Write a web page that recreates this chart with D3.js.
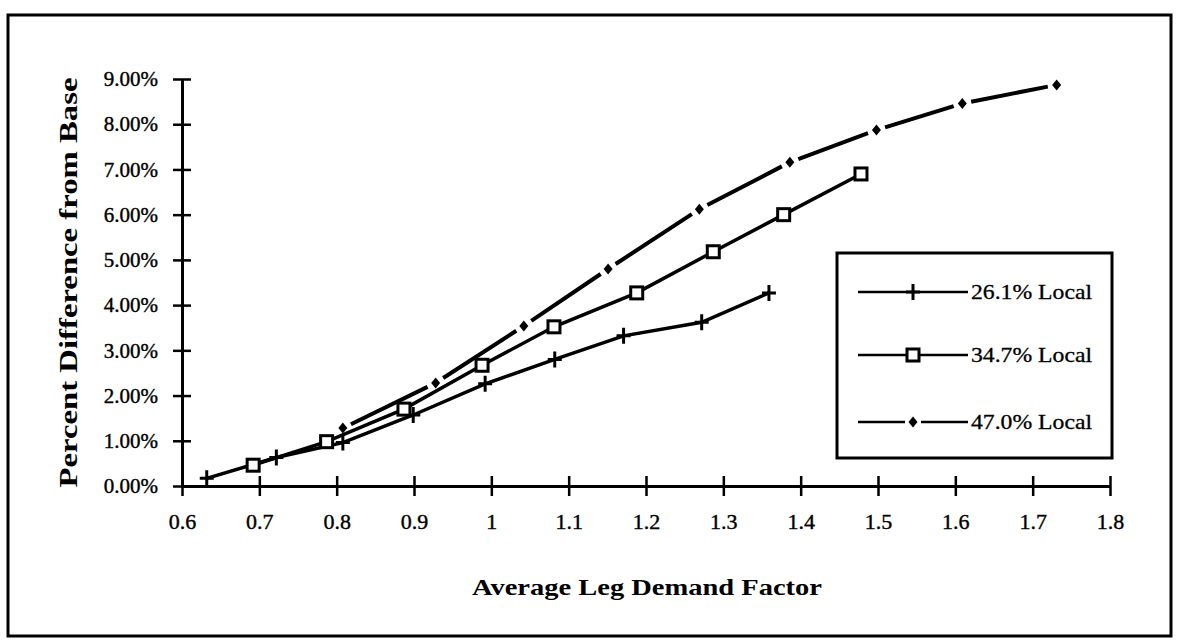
<!DOCTYPE html>
<html>
<head>
<meta charset="utf-8">
<script src="https://cdn.jsdelivr.net/npm/d3@7"></script>
<style>
    body { margin: 0; background: #ffffff; }
    svg { display: block; }
</style>
</head>
<body>
<svg id="drawing_region"></svg>
<script>
// values
const xTicks = [0.6, 0.7, 0.8, 0.9, 1, 1.1, 1.2, 1.3, 1.4, 1.5, 1.6, 1.7, 1.8];
const yTicks = [0, 1, 2, 3, 4, 5, 6, 7, 8, 9];

const seriesNames = ['26.1% Local', '34.7% Local', '47.0% Local'];

const local261X = [0.632, 0.722, 0.808, 0.899, 0.992, 1.082, 1.171, 1.272, 1.359];
const local261Y = [0.17, 0.63, 0.96, 1.57, 2.26, 2.80, 3.32, 3.62, 4.27];

const local347X = [0.692, 0.787, 0.887, 0.988, 1.081, 1.188, 1.287, 1.378, 1.478];
const local347Y = [0.46, 0.98, 1.70, 2.67, 3.52, 4.27, 5.18, 6.00, 6.90];

const local470X = [0.808, 0.928, 1.042, 1.151, 1.269, 1.386, 1.498, 1.609, 1.731];
const local470Y = [1.28, 2.28, 3.54, 4.80, 6.12, 7.16, 7.87, 8.46, 8.87];

const toPoints = (xs, ys) => xs.map((x, i) => ({ x: x, y: ys[i] }));

const data = [
    { name: seriesNames[0], marker: 'plus', points: toPoints(local261X, local261Y) },
    { name: seriesNames[1], marker: 'square', points: toPoints(local347X, local347Y) },
    { name: seriesNames[2], marker: 'diamond', points: toPoints(local470X, local470Y) },
];

const FONT = '"Palatino Linotype", "Book Antiqua", Palatino, "Liberation Serif", serif';

var config = {
    parent: '#drawing_region',
    width: 1179,
    height: 642,
    margin: { top: 79, right: 69, bottom: 156, left: 182 },
};

class LineChart {
    constructor(config, data) {
        this.config = config;
        this.data = data;
        this.init();
    }

    init() {
        let self = this;
        self.inner_width = self.config.width - self.config.margin.left - self.config.margin.right;
        self.inner_height = self.config.height - self.config.margin.top - self.config.margin.bottom;

        self.svg = d3.select(self.config.parent)
            .attr('width', self.config.width)
            .attr('height', self.config.height)
            .attr('font-family', FONT);

        // outer frame
        self.svg.append('rect')
            .attr('x', 8)
            .attr('y', 15)
            .attr('width', 1163)
            .attr('height', 621)
            .attr('fill', 'none')
            .attr('stroke', 'black')
            .attr('stroke-width', 3);

        self.chart = self.svg.append('g')
            .attr('transform', `translate(${self.config.margin.left}, ${self.config.margin.top})`);

        self.xscale = d3.scaleLinear()
            .domain([0.6, 1.8])
            .range([0, self.inner_width]);

        self.yscale = d3.scaleLinear()
            .domain([0, 9])
            .range([self.inner_height, 0]);

        self.xaxis = d3.axisBottom(self.xscale)
            .tickValues(xTicks)
            .tickFormat(d3.format('~g'))
            .tickSize(10)
            .tickPadding(17)
            .tickSizeOuter(0);

        self.yaxis = d3.axisLeft(self.yscale)
            .tickValues(yTicks)
            .tickFormat(d => d.toFixed(2) + '%')
            .tickSize(9)
            .tickPadding(15)
            .tickSizeOuter(0);

        self.line = d3.line()
            .x(d => self.xscale(d.x))
            .y(d => self.yscale(d.y));
    }

    update() {
        this.render();
    }

    render() {
        let self = this;

        // axes
        const xg = self.chart.append('g')
            .attr('transform', `translate(0, ${self.inner_height})`)
            .call(self.xaxis)
            .attr('font-family', FONT);
        xg.select('.domain').attr('stroke-width', 3);
        xg.selectAll('.tick line').attr('y1', -10).attr('stroke-width', 2.5);
        xg.selectAll('.tick text')
            .attr('font-size', '22px')
            .attr('fill', 'black')
            .attr('stroke', 'black')
            .attr('stroke-width', 0.4);

        const yg = self.chart.append('g')
            .call(self.yaxis)
            .attr('font-family', FONT);
        yg.select('.domain').attr('stroke-width', 3);
        yg.selectAll('.tick line').attr('x1', 9).attr('stroke-width', 2.5);
        yg.selectAll('.tick text')
            .attr('font-size', '21px')
            .attr('fill', 'black')
            .attr('stroke', 'black')
            .attr('stroke-width', 0.4);

        // axis titles
        self.chart.append('text')
            .text('Average Leg Demand Factor')
            .attr('x', self.inner_width / 2 + 1)
            .attr('y', self.inner_height + 109)
            .attr('font-size', '24px')
            .attr('font-weight', 'bold')
            .attr('text-anchor', 'middle')
            .attr('textLength', 350)
            .attr('lengthAdjust', 'spacingAndGlyphs');

        self.chart.append('text')
            .text('Percent Difference from Base')
            .attr('transform', `translate(${-105}, ${self.inner_height / 2}) rotate(-90)`)
            .attr('font-size', '26px')
            .attr('font-weight', 'bold')
            .attr('text-anchor', 'middle')
            .attr('textLength', 410)
            .attr('lengthAdjust', 'spacingAndGlyphs');

        // 26.1% and 34.7% series: solid lines
        self.data.slice(0, 2).forEach(s => {
            self.chart.append('path')
                .attr('d', self.line(s.points))
                .attr('stroke', 'black')
                .attr('stroke-width', 3.5)
                .attr('fill', 'none');
        });

        // 47.0% series: dashes between points with a gap round each marker
        const s3 = self.data[2];
        const gap = 9;
        d3.pairs(s3.points).forEach(([a, b]) => {
            const x1 = self.xscale(a.x), y1 = self.yscale(a.y);
            const x2 = self.xscale(b.x), y2 = self.yscale(b.y);
            const len = Math.hypot(x2 - x1, y2 - y1);
            const ux = (x2 - x1) / len, uy = (y2 - y1) / len;
            self.chart.append('line')
                .attr('x1', x1 + ux * gap).attr('y1', y1 + uy * gap)
                .attr('x2', x2 - ux * gap).attr('y2', y2 - uy * gap)
                .attr('stroke', 'black')
                .attr('stroke-width', 4);
        });

        // markers
        self.data.forEach(s => {
            s.points.forEach(p => {
                self.drawMarker(self.chart, s.marker, self.xscale(p.x), self.yscale(p.y));
            });
        });

        // legend
        const legend = self.svg.append('g');
        legend.append('rect')
            .attr('x', 837)
            .attr('y', 253)
            .attr('width', 275)
            .attr('height', 205)
            .attr('fill', 'white')
            .attr('stroke', 'black')
            .attr('stroke-width', 3);

        const rowY = [292, 355, 422];
        self.data.forEach((s, i) => {
            const y = rowY[i];
            if (s.marker === 'diamond') {
                legend.append('line').attr('x1', 858).attr('x2', 905).attr('y1', y).attr('y2', y)
                    .attr('stroke', 'black').attr('stroke-width', 2.5);
                legend.append('line').attr('x1', 921).attr('x2', 968).attr('y1', y).attr('y2', y)
                    .attr('stroke', 'black').attr('stroke-width', 2.5);
            } else {
                legend.append('line').attr('x1', 858).attr('x2', 968).attr('y1', y).attr('y2', y)
                    .attr('stroke', 'black').attr('stroke-width', 2.5);
            }
            self.drawMarker(legend, s.marker, 913, y);
            legend.append('text')
                .text(s.name)
                .attr('x', 971)
                .attr('y', y)
                .attr('dy', '0.35em')
                .attr('font-size', '21px')
                .attr('stroke', 'black')
                .attr('stroke-width', 0.3)
                .attr('textLength', 121)
                .attr('lengthAdjust', 'spacingAndGlyphs');
        });
    }

    drawMarker(g, type, cx, cy) {
        if (type === 'plus') {
            g.append('path')
                .attr('d', `M${cx - 7},${cy}H${cx + 7}M${cx},${cy - 8}V${cy + 8}`)
                .attr('stroke', 'black')
                .attr('stroke-width', 3)
                .attr('fill', 'none');
        } else if (type === 'square') {
            g.append('rect')
                .attr('x', cx - 6)
                .attr('y', cy - 6)
                .attr('width', 12)
                .attr('height', 12)
                .attr('fill', 'white')
                .attr('stroke', 'black')
                .attr('stroke-width', 3);
        } else {
            g.append('path')
                .attr('d', `M${cx},${cy - 5.5}L${cx + 4.5},${cy}L${cx},${cy + 5.5}L${cx - 4.5},${cy}Z`)
                .attr('fill', 'black');
        }
    }
}

let line_chart = new LineChart(config, data);
line_chart.update();
</script>
</body>
</html>
